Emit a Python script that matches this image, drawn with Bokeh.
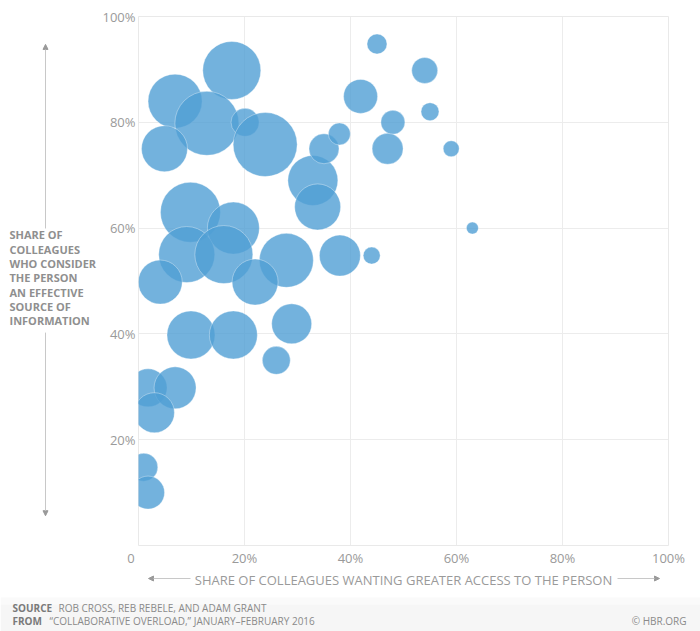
from bokeh.plotting import figure
from bokeh.models import ColumnDataSource, Label, Arrow, NormalHead, FixedTicker, Range1d, BoxAnnotation
from bokeh.layouts import column, row
from bokeh.embed import file_html
from bokeh.resources import INLINE

# Share of colleagues wanting greater access to the person (%)
access = [17.6, 6.9, 12.9, 20.1, 23.9, 4.9, 32.9, 33.8, 35.0, 37.9, 41.9, 45.0,
          48.0, 47.0, 54.0, 55.0, 59.0, 63.0, 44.0, 9.8, 17.9, 9.1, 16.1, 27.9,
          38.0, 4.1, 22.0, 9.9, 17.9, 28.9, 26.0, 1.8, 6.9, 3.0, 1.0, 1.8]
# Share of colleagues who consider the person an effective source of information (%)
effective = [89.8, 84.0, 79.8, 80.0, 75.8, 75.0, 69.0, 64.0, 75.0, 77.8, 84.9, 94.8,
             80.0, 75.0, 89.8, 82.0, 75.0, 60.0, 54.8, 63.0, 60.0, 55.0, 55.0, 53.9,
             54.8, 49.8, 49.8, 39.8, 39.8, 41.9, 35.0, 29.8, 29.8, 25.1, 14.8, 10.0]
# Bubble size (relative)
bubble = [29, 27, 32, 14, 32, 23, 25, 23, 15, 11, 17, 10,
          12, 15.5, 13, 9, 8, 6, 8.5, 30, 26, 28, 29, 27,
          20.5, 22, 23, 24, 24, 20, 14, 19, 21, 20, 14, 16.5]

x_ticks = [0, 20, 40, 60, 80, 100]
y_ticks = [20, 40, 60, 80, 100]
tick_labels = {t: f"{t}%" for t in x_ticks}

y_title = ["SHARE OF", "COLLEAGUES", "WHO CONSIDER", "THE PERSON",
           "AN EFFECTIVE", "SOURCE OF", "INFORMATION"]
x_title = "SHARE OF COLLEAGUES WANTING GREATER ACCESS TO THE PERSON"
source_label, source_text = "SOURCE", "ROB CROSS, REB REBELE, AND ADAM GRANT"
from_label, from_text = "FROM", "\u201cCOLLABORATIVE OVERLOAD,\u201d JANUARY\u2013FEBRUARY 2016"
credit = "\u00a9 HBR.ORG"

FONT = "Open Sans"
TOTAL_W = 700
TOP_H = 569
AXIS_W = 39
LEFT_W = 138 - AXIS_W
BOT_H = 62
Y0 = TOP_H  # page y where bottom panel starts
arr_col = "#c8c8c8"
head_col = "#9a9a9a"


def blank_fig(w, h):
    f = figure(width=w, height=h, x_range=Range1d(0, w), y_range=Range1d(h, 0),
               output_backend="svg", toolbar_location=None,
               min_border=0, min_border_left=0, min_border_right=0,
               min_border_top=0, min_border_bottom=0)
    f.axis.visible = False
    f.grid.visible = False
    f.outline_line_color = None
    f.background_fill_color = "white"
    f.border_fill_color = "white"
    return f


def add_arrow(f, x0, y0, x1, y1):
    f.add_layout(Arrow(x_start=x0, y_start=y0, x_end=x1, y_end=y1,
                       line_color=arr_col, line_width=1,
                       end=NormalHead(size=5, fill_color=head_col, line_color=head_col)))


def add_text(f, x, y, s, size, bold=False, align="left", col="#8a8a8a"):
    f.add_layout(Label(x=x, y=y, text=s, text_align=align, text_baseline="middle",
                       text_font=FONT, text_font_size=size,
                       text_font_style="bold" if bold else "normal", text_color=col))


# ---------- main plot ----------
src = ColumnDataSource(dict(x=access, y=effective, s=[2 * b for b in bubble]))
MAIN_W = TOTAL_W - LEFT_W
p = figure(width=MAIN_W, height=TOP_H, x_range=Range1d(0, 100), y_range=Range1d(0, 100),
           output_backend="svg", toolbar_location=None,
           min_border_left=AXIS_W, min_border_right=MAIN_W - AXIS_W - 530,
           min_border_top=16, min_border_bottom=TOP_H - 16 - 529)
p.background_fill_color = "white"
p.border_fill_color = "white"
p.outline_line_color = "#e9e9e9"

grid_col = "#ececec"
p.xgrid.ticker = FixedTicker(ticks=y_ticks)
p.ygrid.ticker = FixedTicker(ticks=y_ticks)
p.xgrid.grid_line_color = grid_col
p.ygrid.grid_line_color = grid_col

for ax in (p.xaxis[0], p.yaxis[0]):
    ax.axis_line_color = None
    ax.major_tick_line_color = None
    ax.minor_tick_line_color = None
    ax.major_tick_out = 0
    ax.major_tick_in = 0
    ax.minor_tick_out = 0
    ax.minor_tick_in = 0
    ax.major_label_text_color = "#9a9a9a"
    ax.major_label_text_font = FONT
    ax.major_label_text_font_size = "13px"

p.xaxis.ticker = FixedTicker(ticks=x_ticks)
p.xaxis.major_label_overrides = {**tick_labels, 0: "0\u2003\u2009"}
p.xaxis.major_label_standoff = 3
p.yaxis.ticker = FixedTicker(ticks=y_ticks)
p.yaxis.major_label_overrides = dict(tick_labels)
p.yaxis.major_label_standoff = 3

p.scatter("x", "y", size="s", source=src, marker="circle",
          fill_color="#509fd4", fill_alpha=0.8,
          line_color="white", line_alpha=0.35, line_width=1)

# ---------- left panel (y title) ----------
left = blank_fig(LEFT_W, TOP_H)
for i, line in enumerate(y_title):
    add_text(left, 9, 235 + i * 15.35, line, "11px", bold=True, col="#8f8f8f")
add_arrow(left, 45, 228, 45, 30)
add_arrow(left, 45, 340, 45, 537)

# ---------- bottom panel ----------
bottom = blank_fig(TOTAL_W, BOT_H)
bottom.add_layout(BoxAnnotation(top=597 - Y0, bottom=604 - Y0, fill_color="#fafafa", fill_alpha=1, line_color=None))
bottom.add_layout(BoxAnnotation(top=604 - Y0, bottom=BOT_H, fill_color="#f6f6f6", fill_alpha=1, line_color=None))
add_text(bottom, 403, 579 - Y0, x_title, "13px", align="center", col="#9a9a9a")
add_arrow(bottom, 190, 578 - Y0, 148, 578 - Y0)
add_arrow(bottom, 617, 578 - Y0, 659, 578 - Y0)
add_text(bottom, 12, 607 - Y0, source_label, "10px", bold=True, col="#7a7a7a")
add_text(bottom, 58, 607 - Y0, source_text, "10px")
add_text(bottom, 12, 620 - Y0, from_label, "10px", bold=True, col="#7a7a7a")
add_text(bottom, 49, 620 - Y0, from_text, "10px")
add_text(bottom, 686, 620 - Y0, credit, "10px", align="right")

layout = column(row(left, p, spacing=0), bottom, spacing=0)
open("out.html", "w").write(file_html(layout, INLINE))
